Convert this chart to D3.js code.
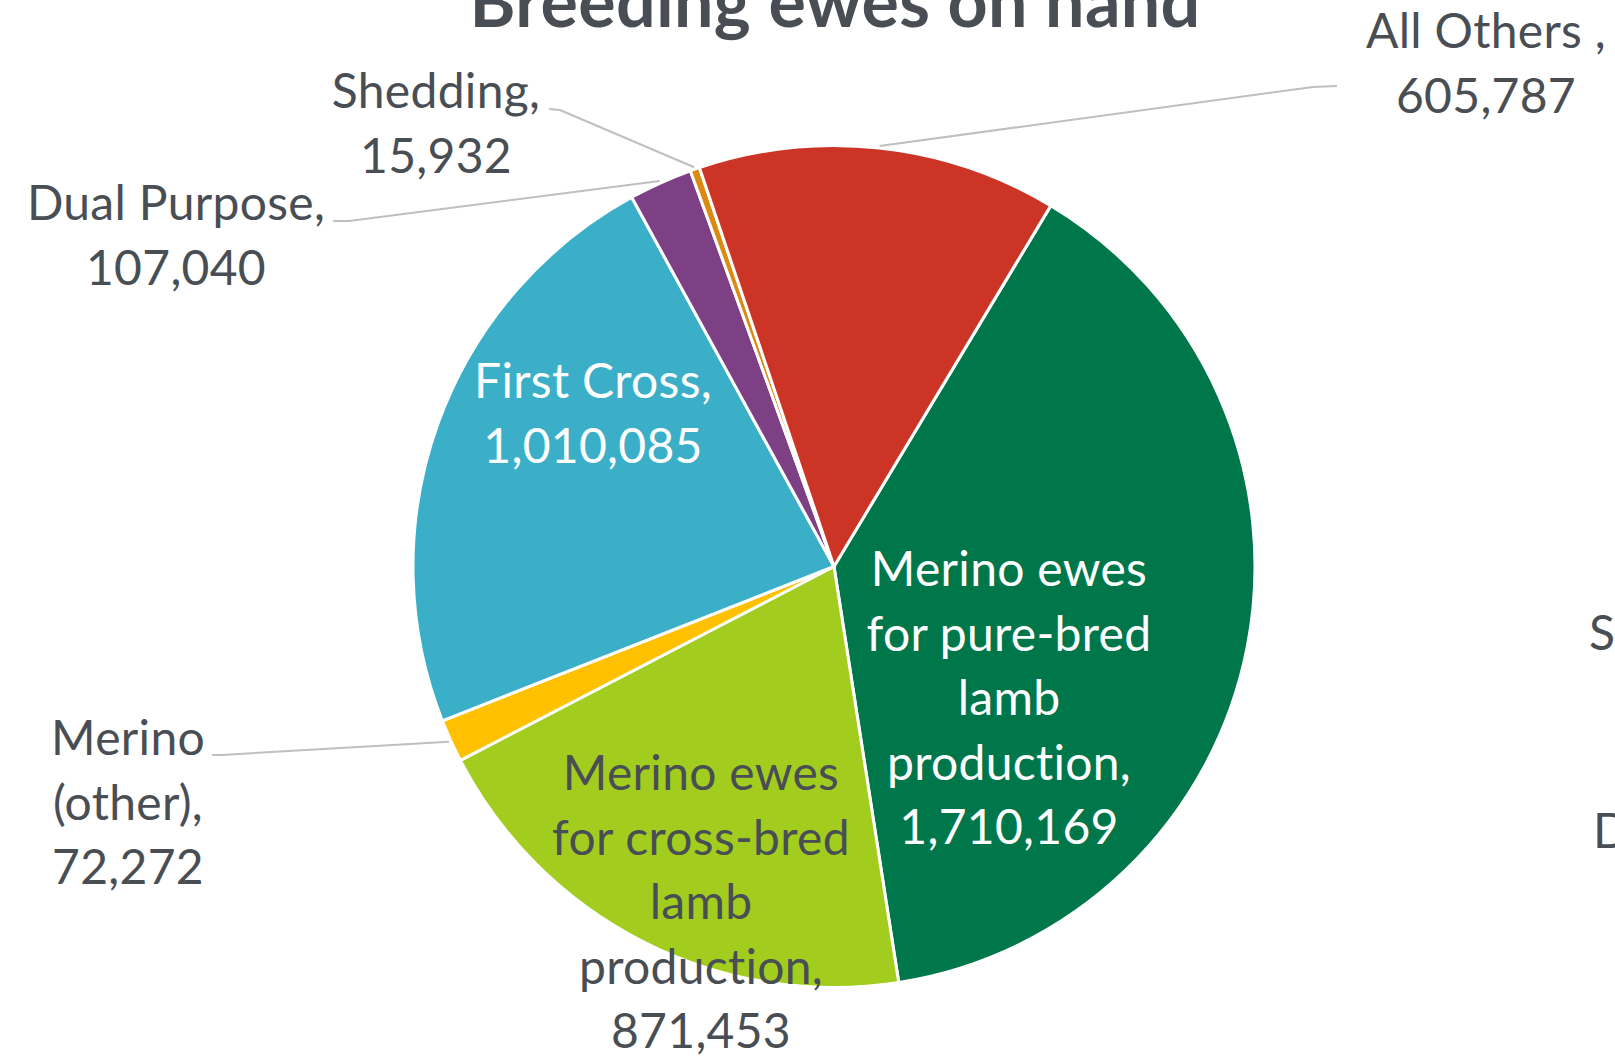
<!DOCTYPE html>
<html>
<head>
<meta charset="utf-8">
<script src="https://cdn.jsdelivr.net/npm/d3@7"></script>
<style>
  html, body { margin: 0; padding: 0; background: #ffffff; overflow: hidden; }
  svg { display: block; }
  text { font-variant-ligatures: none; font-feature-settings: "liga" 0, "clig" 0, "dlig" 0; letter-spacing: 0.3px; }
</style>
</head>
<body>
<svg id="chart" width="1615" height="1060"></svg>
<script>
// ---------- data ----------
const title = "Breeding ewes on hand";
const categories = [
  "Merino ewes for pure-bred lamb production",
  "Merino ewes for cross-bred lamb production",
  "Merino (other)",
  "First Cross",
  "Dual Purpose",
  "Shedding",
  "All Others "
];
const values = [1710169, 871453, 72272, 1010085, 107040, 15932, 605787];
// category text as it is broken into lines in the data labels
const labelLines = [
  ["Merino ewes", "for pure-bred", "lamb", "production,"],
  ["Merino ewes", "for cross-bred", "lamb", "production,"],
  ["Merino", "(other),"],
  ["First Cross,"],
  ["Dual Purpose,"],
  ["Shedding,"],
  ["All Others ,"]
];
// clipped text from outside the chart area at the right edge
const edgeTexts = ["S", "D"];

// ---------- styles / layout ----------
const palette = ["#00774A", "#A2CD1F", "#FFC000", "#3BAFC8", "#7E4084", "#DA8A12", "#CC3526"];
const textGray = "#494E54";
const cx = 834, cy = 566.5, R = 421;
const firstSliceDeg = 31;
const lineH = 64.5;
const fontFamily = "Lato, 'Open Sans', sans-serif";
const labelSize = 48;
// label anchor (center x, first baseline), text colour, leader start points
const labelLayout = [
  { x: 1009, y: 586, fill: "#ffffff" },
  { x: 701,  y: 790, fill: textGray },
  { x: 128,  y: 755, fill: textGray, leader: [[212, 755], [222, 755]] },
  { x: 593,  y: 398, fill: "#ffffff" },
  { x: 176,  y: 220, fill: textGray, leader: [[333, 221], [349, 221]] },
  { x: 436,  y: 108, fill: textGray, leader: [[549, 109], [560, 110]] },
  { x: 1486, y: 48,  fill: textGray, leader: [[1337, 86], [1313, 87]] }
];
const edgeLayout = [{ x: 1589, y: 650 }, { x: 1593, y: 848 }];

const fmt = d3.format(",");
const svg = d3.select("#chart");

// ---------- pie ----------
const a0 = firstSliceDeg * Math.PI / 180;
const pie = d3.pie().sort(null).startAngle(a0).endAngle(a0 + 2 * Math.PI);
const arcs = pie(values);
const arc = d3.arc().innerRadius(0).outerRadius(R);

const g = svg.append("g").attr("transform", `translate(${cx},${cy})`);
g.selectAll("path.slice")
  .data(arcs)
  .join("path")
  .attr("class", "slice")
  .attr("d", arc)
  .attr("fill", (d, i) => palette[i])
  .attr("stroke", "#ffffff")
  .attr("stroke-width", 3)
  .attr("stroke-linejoin", "round");

// ---------- leader lines ----------
const leaderG = svg.append("g");
arcs.forEach((d, i) => {
  const L = labelLayout[i].leader;
  if (!L) return;
  const mid = (d.startAngle + d.endAngle) / 2;
  const ex = cx + (R + 2) * Math.sin(mid);
  const ey = cy - (R + 2) * Math.cos(mid);
  const pts = L.concat([[ex, ey]]);
  leaderG.append("path")
    .attr("d", d3.line()(pts))
    .attr("fill", "none")
    .attr("stroke", "#BFBFBF")
    .attr("stroke-width", 2);
});

// ---------- data labels ----------
const labelG = svg.append("g")
  .attr("font-family", fontFamily)
  .attr("font-size", labelSize)
  .attr("text-anchor", "middle");
arcs.forEach((d, i) => {
  const lay = labelLayout[i];
  const lines = labelLines[i].concat([fmt(values[i])]);
  const t = labelG.append("text")
    .attr("x", lay.x)
    .attr("y", lay.y)
    .attr("fill", lay.fill);
  lines.forEach((s, k) => {
    t.append("tspan")
      .attr("x", lay.x)
      .attr("y", lay.y + k * lineH)
      .text(s);
  });
});

// ---------- title ----------
svg.append("text")
  .attr("x", 835)
  .attr("y", 27)
  .attr("text-anchor", "middle")
  .attr("font-family", fontFamily)
  .attr("font-weight", 700)
  .attr("font-size", 70)
  .attr("fill", textGray)
  .text(title);

// ---------- clipped edge texts ----------
svg.append("g")
  .attr("font-family", fontFamily)
  .attr("font-size", labelSize)
  .attr("fill", textGray)
  .selectAll("text")
  .data(edgeTexts)
  .join("text")
  .attr("x", (d, i) => edgeLayout[i].x)
  .attr("y", (d, i) => edgeLayout[i].y)
  .text(d => d);
</script>
</body>
</html>
